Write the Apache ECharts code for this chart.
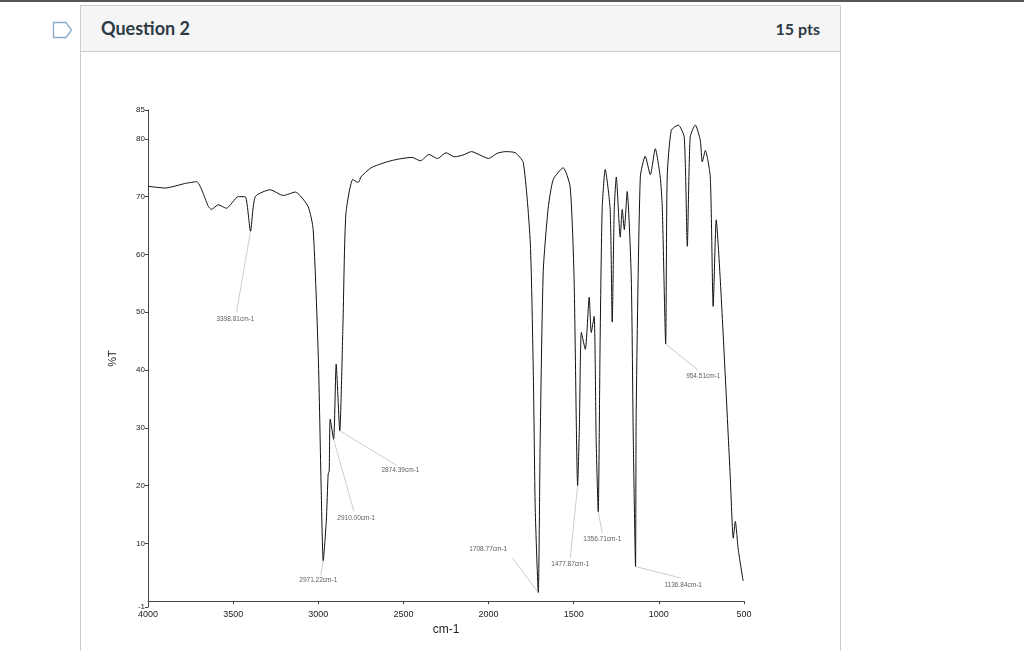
<!DOCTYPE html>
<html><head><meta charset="utf-8">
<script src="https://cdn.jsdelivr.net/npm/echarts@6/dist/echarts.min.js"></script>
<style>
body{margin:0;width:1024px;height:651px;overflow:hidden;background:#fff;font-family:Lato,"Open Sans",sans-serif;position:relative}
#top{position:absolute;left:0;top:0;width:1024px;height:2px;background:#555}
#box{position:absolute;left:80px;top:5px;width:759px;height:660px;border:1px solid #c7cdd1}
#hdr{position:absolute;left:0;top:0;width:759px;height:45px;background:#f5f5f5;border-bottom:1px solid #c7cdd1}
#q{position:absolute;left:20px;top:11px;font-size:18px;font-weight:bold;color:#2d3b45}
#p{position:absolute;right:20px;top:13px;font-size:16px;font-weight:bold;color:#2d3b45}
#chart{position:absolute;left:0;top:0;width:1024px;height:651px}
</style></head><body>
<div id="top"></div>
<svg style="position:absolute;left:52px;top:21px" width="22" height="18"><path d="M1.5 1.5 H14 L19.5 9 L14 16.5 H1.5 Z" fill="none" stroke="#8aa8c7" stroke-width="1.3"/></svg>
<div id="box"><div id="hdr"><div id="q">Question 2</div><div id="p">15 pts</div></div></div>
<div id="chart"></div>
<script>
const wavenumbers=[4000,3900,3780,3715,3645,3628,3587,3540,3470,3429,3398,3370,3282,3206,3135,3060,3030,3000,2983,2971,2953,2942,2936,2930,2910,2895,2874,2855,2838,2797,2770,2760,2750,2690,2600,2530,2450,2400,2350,2300,2250,2200,2150,2100,2050,2000,1950,1900,1843,1796,1755,1737,1726,1708,1697,1679,1650,1620,1562,1521,1498,1477,1467,1455,1432,1409,1397,1380,1368,1356,1345,1333,1315,1286,1274,1262,1250,1227,1215,1203,1186,1162,1150,1137,1133,1109,1080,1050,1021,992,980,960,951,927,886,851,833,816,786,757,745,727,698,681,663,640,610,581,563,551,534,505];
const transmittance=[71.8,71.5,72.3,72.6,68.3,67.8,68.6,68,70,70,64,70,71.2,70.2,70.8,68.3,64.3,42.4,19.5,7,13.8,22,22.5,31.5,28,41,29.5,48,67,73,72.5,72.6,73.4,75,76,76.5,76.8,76.2,77.3,76.6,77.6,76.9,77.2,77.8,77.2,76.6,77.5,77.8,77.6,75.9,62,39,16,1.5,27.6,57,68,73,75,71.7,56,20,29.8,46.5,43.6,52.6,46.5,49.3,27.6,15.5,44.8,67.8,74.7,67.8,48.3,67.8,73.4,63,67.8,64.3,70.9,56,27.6,6,33,73.4,77,73.8,78.3,73.4,68.3,44.5,73.4,81.5,82.4,80.3,61.4,80.3,82.4,79.8,76,78,73.4,51,66,56,39,21.7,10.9,13.8,9,3.5];
const annoText=["3398.81cm-1","2971.22cm-1","2910.00cm-1","2874.39cm-1","1708.77cm-1","1477.87cm-1","1356.71cm-1","1136.84cm-1","954.51cm-1"];
const annoPeak=[[3398,64],[2971,7],[2910,28],[2874,29.5],[1708,1.5],[1477,20],[1356,15.5],[1136,6],[960,44.5]];
const annoLineEnd=[[3480,50],[2985,4.5],[2790,15.5],[2540,23.5],[1860,7.5],[1520,7.5],[1332,11.8],[870,4],[770,40]];
const annoLabelPos=[[3487,48.8],[3000,3.6],[2777,14.3],[2518,22.6],[2002,9],[1520,6.4],[1332,10.7],[857,2.8],[739,39]];
const yTicks=[-1,0,10,20,30,40,50,60,70,80,85];
const xTicks=[4000,3500,3000,2500,2000,1500,1000,500];

const data=wavenumbers.map((w,i)=>[w,transmittance[i]]);
const chart=echarts.init(document.getElementById('chart'));
chart.setOption({
  animation:false,
  grid:{left:148,right:280,top:110,bottom:44},
  xAxis:{type:'value',inverse:true,min:500,max:4000,interval:500,
    name:'cm-1',nameLocation:'middle',nameGap:16,nameTextStyle:{fontSize:12,color:'#222',fontFamily:'Liberation Sans'},
    axisLine:{lineStyle:{color:'#444'}},axisTick:{length:3,lineStyle:{color:'#444'}},splitLine:{show:false},
    axisLabel:{fontSize:9,color:'#222',margin:3,fontFamily:'Liberation Sans',customValues:xTicks,formatter:v=>String(v)}},
  yAxis:{type:'value',min:-1,max:85,
    name:'%T',nameLocation:'middle',nameGap:30,nameRotate:90,nameTextStyle:{fontSize:11,color:'#222',fontFamily:'Liberation Sans'},
    axisLine:{show:true,lineStyle:{color:'#444'}},splitLine:{show:false},
    axisTick:{show:true,length:3,customValues:yTicks,lineStyle:{color:'#444'}},
    axisLabel:{fontSize:8,color:'#222',margin:3,fontFamily:'Liberation Sans',customValues:yTicks,showMinLabel:true,showMaxLabel:true,formatter:v=>v===0?'-0.':String(v)}},
  series:[
    {type:'line',data:data,showSymbol:false,smooth:0.2,lineStyle:{color:'#111',width:1},
     markLine:{silent:true,symbol:'none',label:{show:false},lineStyle:{color:'#aaa',width:0.6,type:'solid'},
       data:annoPeak.map((p,i)=>[{coord:p},{coord:annoLineEnd[i]}])}},
    {type:'scatter',symbolSize:0,data:annoLabelPos.map((p,i)=>({value:p,name:annoText[i]})),
     label:{show:true,position:'inside',formatter:p=>p.name,fontSize:6.5,color:'#333',fontFamily:'Liberation Sans'}}
  ]
});
</script></body></html>
